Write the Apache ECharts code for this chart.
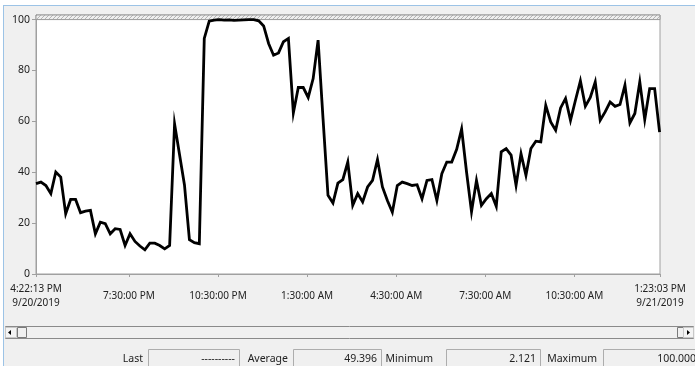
<!DOCTYPE html>
<html><head><meta charset="utf-8">
<script src="https://cdn.jsdelivr.net/npm/echarts@6/dist/echarts.min.js"></script>
<style>html,body{margin:0;padding:0;background:#f0f0f0;overflow:hidden}#c{width:695px;height:366px}</style>
</head><body><div id="c"></div>
<script>
// ---- data ----
const startTime = Date.UTC(2019, 8, 20, 16, 22, 13);
const endTime = Date.UTC(2019, 8, 21, 13, 23, 3);
const sampleMinutes = 10;
const values = [
  35.5, 36.1, 34.8, 31.6, 40.1, 38.1, 23.7, 29.3, 29.3, 24.1,
  24.7, 25.0, 15.8, 20.4, 19.8, 15.8, 17.8, 17.5, 11.2, 15.8,
  12.8, 11.0, 9.5, 12.1, 12.1, 11.2, 9.9, 11.2, 59.0, 47.0,
  35.0, 13.5, 12.3, 11.9, 92.6, 99.4, 99.8, 100.0, 99.8, 99.9,
  99.7, 99.8, 99.9, 100.0, 100.0, 99.5, 97.5, 90.6, 86.0, 86.9,
  91.3, 92.6, 63.3, 73.3, 73.3, 69.4, 76.8, 91.9, 61.0, 30.9,
  27.9, 35.7, 37.1, 44.0, 27.0, 31.6, 28.3, 34.2, 36.8, 45.0,
  34.2, 28.9, 24.3, 34.8, 36.1, 35.5, 34.8, 35.1, 29.6, 36.8,
  37.1, 28.9, 39.4, 44.0, 44.0, 49.0, 57.0, 40.0, 24.5, 36.8,
  27.0, 29.6, 31.6, 26.6, 48.0, 49.3, 46.7, 34.8, 47.3, 38.8,
  49.3, 52.2, 51.9, 66.3, 59.8, 56.5, 65.3, 69.0, 60.4, 68.3,
  75.9, 65.9, 69.4, 75.5, 60.4, 63.7, 67.6, 65.9, 66.6, 74.2,
  59.4, 63.1, 75.5, 60.7, 72.9, 72.9, 55.8
];
const yTicks = [0, 20, 40, 60, 80, 100];
const limitValue = 100;
const axisTop = 101.8;
const xTickTimes = [
  startTime,
  Date.UTC(2019, 8, 20, 19, 30, 0),
  Date.UTC(2019, 8, 20, 22, 30, 0),
  Date.UTC(2019, 8, 21, 1, 30, 0),
  Date.UTC(2019, 8, 21, 4, 30, 0),
  Date.UTC(2019, 8, 21, 7, 30, 0),
  Date.UTC(2019, 8, 21, 10, 30, 0),
  endTime
];
const xTickLabels = [
  '4:22:13 PM\n9/20/2019', '7:30:00 PM', '10:30:00 PM', '1:30:00 AM',
  '4:30:00 AM', '7:30:00 AM', '10:30:00 AM', '1:23:03 PM\n9/21/2019'
];
const statNames = ['Last', 'Average', 'Minimum', 'Maximum'];
const statValues = ['----------', '49.396', '2.121', '100.000'];

// ---- helpers ----
const labelMap = {};
xTickTimes.forEach((t, i) => { labelMap[t] = xTickLabels[i]; });
const seriesData = values.map((v, i) => [startTime + i * sampleMinutes * 60000, v]);

const hatch = document.createElement('canvas');
hatch.width = 4; hatch.height = 4;
(function () {
  const g = hatch.getContext('2d');
  g.fillStyle = '#eeeeee'; g.fillRect(0, 0, 4, 4);
  g.strokeStyle = '#b4b4b4'; g.lineWidth = 1;
  g.beginPath(); g.moveTo(-1, 5); g.lineTo(5, -1); g.stroke();
})();

const FONT = '"Noto Sans", "Liberation Sans", sans-serif';
const TXT = '#222';

const statLayout = [
  { labelRight: 143, boxL: 148, boxR: 239 },
  { labelRight: 288, boxL: 293, boxR: 381 },
  { labelRight: 433, boxL: 446, boxR: 540 },
  { labelRight: 597, boxL: 603, boxR: 700 }
];
const graphics = [
  { type: 'rect', shape: { x: 0, y: 0, width: 695, height: 6 }, style: { fill: '#ffffff' }, silent: true },
  { type: 'rect', shape: { x: 0, y: 0, width: 3, height: 366 }, style: { fill: '#ffffff' }, silent: true },
  { type: 'line', shape: { x1: 3.5, y1: 6, x2: 3.5, y2: 366 }, style: { stroke: '#9cc3e6', lineWidth: 1 }, silent: true },
  { type: 'line', shape: { x1: 3, y1: 5.5, x2: 695, y2: 5.5 }, style: { stroke: '#9cc3e6', lineWidth: 1 }, silent: true },
  { type: 'rect', shape: { x: 5.5, y: 326.5, width: 688, height: 12 }, style: { fill: '#f0f0f0', stroke: '#8a8a8a', lineWidth: 1 }, silent: true },
  { type: 'rect', shape: { x: 5.5, y: 327.5, width: 11, height: 10 }, style: { fill: '#f4f4f4', stroke: '#c8c8c8', lineWidth: 1 }, silent: true },
  { type: 'polygon', shape: { points: [[8, 332.5], [11, 330], [11, 335]] }, style: { fill: '#000' }, silent: true },
  { type: 'rect', shape: { x: 17.5, y: 327.5, width: 9, height: 10 }, style: { fill: '#f0f0f0', stroke: '#7a7a7a', lineWidth: 1 }, silent: true },
  { type: 'rect', shape: { x: 677.5, y: 327.5, width: 6, height: 10 }, style: { fill: '#f0f0f0', stroke: '#7a7a7a', lineWidth: 1 }, silent: true },
  { type: 'rect', shape: { x: 683.5, y: 327.5, width: 10, height: 10 }, style: { fill: '#f4f4f4', stroke: '#c8c8c8', lineWidth: 1 }, silent: true },
  { type: 'polygon', shape: { points: [[690, 332.5], [687, 330], [687, 335]] }, style: { fill: '#000' }, silent: true }
];
statNames.forEach((name, i) => {
  const L = statLayout[i];
  graphics.push({ type: 'text', x: L.labelRight, y: 359, style: { text: name, font: '10.5px ' + FONT, fill: TXT, align: 'right', verticalAlign: 'middle' }, silent: true });
  graphics.push({ type: 'rect', shape: { x: L.boxL + 0.5, y: 349.5, width: L.boxR - L.boxL, height: 30 }, style: { fill: '#f0f0f0', stroke: '#adadad', lineWidth: 1 }, silent: true });
  graphics.push({ type: 'text', x: L.boxR - 4, y: 359, style: { text: statValues[i], font: '10.5px ' + FONT, fill: TXT, align: 'right', verticalAlign: 'middle' }, silent: true });
});

const chart = echarts.init(document.getElementById('c'), null, { renderer: 'canvas' });
chart.setOption({
  backgroundColor: '#f0f0f0',
  animation: false,
  grid: {
    left: 36, right: 35, top: 15, bottom: 92,
    show: true, backgroundColor: '#ffffff', borderColor: '#a0a0a0', borderWidth: 1
  },
  xAxis: {
    type: 'value', min: startTime, max: endTime,
    axisLine: { show: true, lineStyle: { color: '#a0a0a0', width: 1 } },
    axisTick: { show: true, length: 3, customValues: xTickTimes, lineStyle: { color: '#a0a0a0' } },
    axisLabel: {
      customValues: xTickTimes,
      formatter: v => labelMap[v] || '',
      fontFamily: FONT, fontSize: 10, color: TXT,
      verticalAlign: 'middle', lineHeight: 14, margin: 22, hideOverlap: false
    },
    splitLine: { show: false }
  },
  yAxis: {
    type: 'value', min: 0, max: axisTop,
    axisLine: { show: true, lineStyle: { color: '#a0a0a0', width: 1 } },
    axisTick: { show: true, length: 4, customValues: yTicks, lineStyle: { color: '#a0a0a0' } },
    axisLabel: { customValues: yTicks, margin: 6, fontFamily: FONT, fontSize: 10.5, color: TXT },
    splitLine: { show: false }
  },
  series: [{
    type: 'line',
    data: seriesData,
    showSymbol: false,
    symbol: 'none',
    lineStyle: { color: '#000000', width: 2.8, join: 'miter' },
    z: 3,
    markArea: {
      silent: true,
      itemStyle: { color: { image: hatch, repeat: 'repeat' }, borderColor: '#9a9a9a', borderWidth: 1 },
      data: [[{ yAxis: limitValue }, { yAxis: axisTop }]]
    }
  }],
  graphic: graphics
});
</script>
</body></html>
